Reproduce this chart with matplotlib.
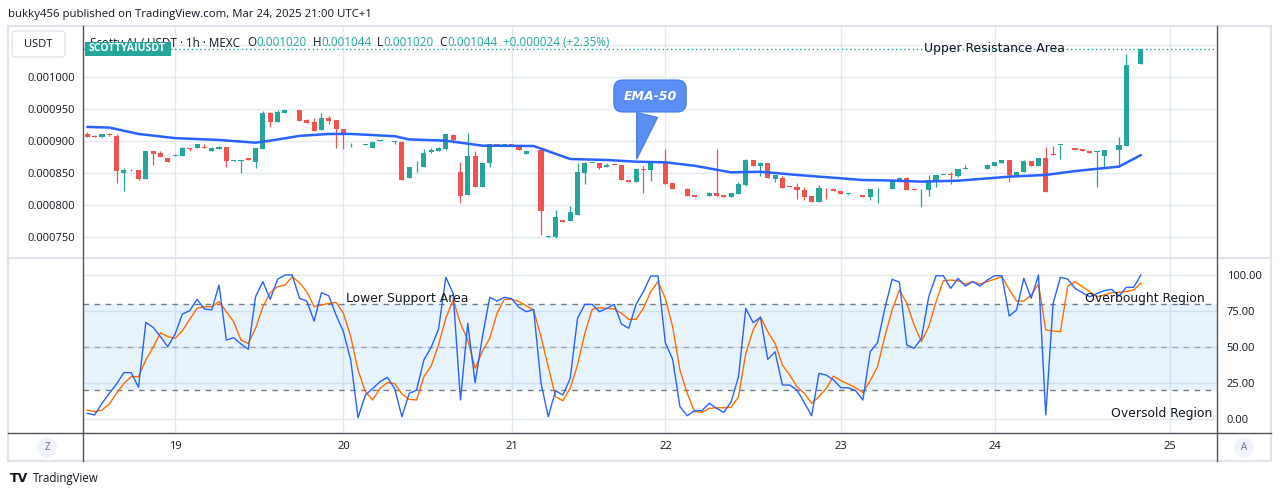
import numpy as np
import matplotlib.pyplot as plt
from matplotlib.patches import FancyBboxPatch, Circle, Rectangle

plt.rcParams['font.family'] = ['Open Sans', 'DejaVu Sans']

# Timcandles, priser i miljondelar USDT (x1e-6)
opens = [911.5, 907.8, 906.8, 911, 907.8, 850.5, 854.2, 854.7, 840.6, 884.4,
         881.3, 873, 876.6, 877, 888.6, 889, 890.6, 884.4, 887.5, 890.6,
         869.5, 869.5, 873, 867.7, 887.5, 943.8, 929.7, 943.8, 947.9, 948.5,
         932.8, 929.7, 917.2, 936, 932.8, 918.8, 891.5, 885.3, 894.5, 889.6,
         900, 902.4, 898.5, 899, 842.2, 860.4, 859.4, 883.3, 884.9, 887.5,
         909.4, 851.6, 816.2, 876.6, 828.6, 865.1, 895.3, 892.7, 895.3, 892.2,
         880.2, 885.3, 886, 750, 749.5, 776, 775.5, 784.4, 850, 865.3,
         865.6, 859.9, 862.8, 862.5, 839.6, 835.4, 856.2, 854.2, 865.3, 865.6,
         834.4, 826, 825.5, 815.6, 813.5, 813.5, 818.2, 816, 813, 817.7,
         831.3, 870.3, 861.4, 865.6, 840.6, 842.2, 829.2, 827.6, 824, 814,
         805.2, 826.3, 824.5, 821.4, 817, 816.5, 815.1, 813, 826, 826,
         825.5, 838.5, 842.7, 824.5, 824.4, 823.4, 839.1, 847.3, 847.6, 845.8,
         856.7, 858.8, 859, 856.7, 860.9, 866.2, 869.8, 846.9, 851.1, 868.8,
         861.4, 873.4, 879.2, 893.5, 893.2, 888.5, 888, 884.4, 882.8, 877.1,
         886.8, 886, 892.7, 1019.8, 1020]
highs = [914, 909, 911, 912, 911, 857.3, 856, 855, 884.4, 885,
         884.4, 873, 879, 891.2, 889, 895.3, 895.3, 891.2, 892, 891,
         870, 871, 873, 888.6, 947.4, 945.3, 948.5, 948.5, 948.5, 948.5,
         934.4, 936, 943.8, 939, 933, 919, 897.4, 885.6, 894.8, 898.5,
         902, 902.6, 900.5, 900, 859.4, 868.3, 887, 888.6, 890.6, 911,
         911.5, 867.2, 913, 884.4, 865.1, 896, 896, 895.3, 895.3, 892.2,
         884.4, 885.5, 887, 750.3, 792.2, 776, 798.4, 865.1, 867.2, 865.6,
         865.6, 865.6, 862.8, 862.5, 839.6, 856.2, 860.9, 865.6, 865.8, 887.5,
         834.4, 826.3, 827, 815.6, 813.8, 821, 887.5, 816, 818.7, 835.4,
         871.9, 870.3, 867.7, 866, 846.9, 845.8, 829.2, 833.8, 827.6, 814,
         830.7, 826.3, 824.5, 821.4, 817.3, 816.7, 815.1, 824.5, 826.3, 826.3,
         839.1, 844.3, 843, 825.5, 824.7, 846.9, 846.9, 847.6, 851.6, 856.2,
         862, 859, 859, 864, 866.7, 869.8, 869.8, 851, 870.3, 868.8,
         872.9, 890.1, 892.2, 894, 893.2, 888.5, 888, 884.4, 885, 886,
         887, 906.8, 1035.4, 1020.2, 1044]
lows = [906.8, 906, 906.8, 908.3, 835, 822.4, 853, 839, 840, 863,
        875, 867.7, 876, 877, 884.4, 889, 889, 884, 887, 860,
        869.5, 850.5, 870, 858.3, 887, 922.4, 929, 943, 947.9, 931.3,
        928, 915, 917, 926.6, 889.6, 887.5, 891, 885.3, 894.5, 889.6,
        900, 902.4, 895.3, 839, 842.2, 851.6, 859, 880.7, 884, 886.5,
        896.4, 803.7, 816, 828, 828, 859.9, 892.2, 892.7, 893.2, 886,
        880.2, 885.3, 753.1, 749, 749, 774, 775, 784, 833.3, 865.3,
        856, 859.9, 862.4, 839.1, 835.4, 835.4, 818.4, 838, 865.3, 833,
        825.5, 826, 814.6, 812.5, 813.5, 813.5, 814, 813, 813, 817.7,
        830, 861.4, 844.8, 842.2, 836.5, 827.1, 828.2, 809.9, 807.3, 805.2,
        805.2, 809.4, 822.4, 817.2, 815.5, 816.5, 813, 807.8, 803.7, 826,
        825.5, 838.5, 823.4, 823, 797.4, 814.6, 828.1, 847.3, 832.8, 844.3,
        856.7, 858.8, 858.8, 856.7, 860.9, 866.2, 836.5, 846.9, 851.1, 861.4,
        861.4, 820.8, 878.9, 871.4, 893, 886.5, 883.8, 881.8, 828.7, 857.3,
        886.8, 859.9, 892, 1019.8, 1020]
closes = [906.8, 906.8, 911, 910, 853.7, 854.8, 855, 840.6, 884.4, 879.7,
          875.5, 867.7, 878, 889, 887.5, 895.3, 889.6, 889.6, 891.2, 868.8,
          870, 870, 870.9, 888.6, 943.2, 929.7, 945.3, 948.5, 948.2, 931.3,
          928.7, 915.6, 936, 931.3, 918.8, 911, 891.8, 885.6, 894.8, 898.5,
          901, 902.6, 898.8, 839.1, 859.4, 860.7, 881.8, 886, 888.6, 911,
          901.6, 814.6, 876.6, 828.7, 865.1, 895.3, 892.2, 895.3, 893.2, 886,
          884.4, 885.5, 791.1, 750.3, 780.7, 774, 788.5, 851.6, 865.6, 865.6,
          857.3, 862.5, 862.4, 839.1, 835.4, 856.2, 854.2, 865.6, 865.6, 833.3,
          825.5, 826.3, 814.6, 812.5, 813.8, 818.7, 814.6, 813, 818.7, 832.3,
          870.3, 861.4, 865.6, 842.2, 846.9, 827.1, 828.2, 823.4, 813, 805.2,
          827.1, 825.8, 822.4, 817.2, 817.3, 816.7, 813, 824.5, 826.3, 826.3,
          839.1, 842.7, 823.4, 824.2, 824.7, 839.1, 846.9, 847.6, 847.2, 856.2,
          857, 859, 858.8, 862.5, 866.7, 869.8, 847.4, 851, 869.3, 861.4,
          872.9, 820.8, 878.9, 893.8, 893, 886.5, 883.8, 881.8, 883.1, 886,
          887, 893.2, 1019.5, 1020, 1044]

# EMA-50 avläst i några punkter (candle-index, pris x1e-6)
ema_idx = [0, 3, 7, 12, 18, 23, 25, 29, 33, 36, 42, 44, 49, 54, 61, 63, 66,
           71, 75, 79, 83, 88, 92, 97, 101, 106, 109, 114, 119, 126, 131, 135,
           141, 144]
ema_val = [922, 921, 911, 904.5, 901.6, 897.4, 900.5, 908, 911, 911, 907.5,
           902.5, 900.5, 892.7, 892.2, 884, 871.9, 870.3, 867.7, 866.7, 861.3,
           851, 852, 846.9, 843.5, 839, 838.5, 836.5, 838, 844.3, 847, 853,
           860, 878]

# Stochastic %K och %D
stoch_k = [3.9, 2.8, 10.9, 17.8, 24.3, 32.2, 32.2, 22.0, 67.1, 63.6,
           57.2, 50.2, 59.0, 72.9, 75.2, 83.1, 76.4, 75.7, 93.0, 54.8,
           56.5, 52.1, 48.4, 84.9, 95.4, 83.1, 97.0, 100, 100, 83.8,
           81.9, 68.0, 87.7, 85.6, 72.2, 60.6, 41.0, 0.9, 16.6, 21.3,
           25.9, 28.9, 21.3, 1.6, 17.8, 20.1, 41.0, 49.8, 62.3, 98.4,
           87.2, 13.2, 66.4, 25.2, 57, 84.5, 81.9, 84.5, 83.5, 77.5,
           74.5, 76.1, 25.2, 1.6, 19.7, 16.6, 28.2, 69.9, 79.6, 79.6,
           74.5, 76.8, 79.6, 66.0, 63.0, 79.6, 88.4, 99.3, 99.3, 53.0,
           41.4, 8.5, 2.3, 5.8, 5.8, 10.9, 7.4, 4.6, 12.0, 29.4,
           76.8, 66.9, 70.6, 41.4, 46.7, 23.6, 23.6, 20.1, 11.3, 2.3,
           31.7, 30.5, 27.1, 21.7, 21.7, 19.7, 13.2, 46.7, 53.0, 76.6,
           97.0, 94.9, 51.4, 49.1, 56.0, 84.9, 99.5, 99.5, 90.7, 97.7,
           92.3, 95.4, 92.3, 96.5, 99.5, 99.5, 71.5, 75.7, 97.7, 83.8,
           100, 2.8, 80.3, 98.4, 97.2, 90.7, 87.7, 84.9, 87.2, 89.1,
           90.0, 85.4, 91.4, 91.4, 100]
stoch_d = [6.2, 5.1, 6.2, 10.4, 17.8, 24.7, 29.4, 29.4, 41.0, 49.8,
           59.9, 57.2, 56.0, 61.3, 69.2, 76.8, 78.0, 78.0, 81.5, 74.5,
           67.6, 54.8, 52.5, 63.0, 78.0, 87.7, 91.9, 93.0, 98.8, 94.7,
           88.4, 78.0, 79.1, 80.3, 81.0, 73.4, 57.2, 34.0, 19.0, 13.2,
           21.3, 25.2, 24.7, 17.3, 13.6, 13.2, 29.4, 36.8, 51.4, 69.9,
           82.6, 66.4, 54.8, 35.2, 47, 56.0, 73.4, 83.1, 83.1, 81.5,
           78.5, 75.7, 57.2, 36.3, 15.5, 12.7, 21.3, 37.5, 59.5, 76.1,
           77.3, 76.8, 76.4, 73.4, 69.2, 69.2, 76.8, 88.4, 95.4, 83.8,
           64.1, 34.0, 17.8, 5.1, 4.6, 7.4, 7.8, 7.8, 8.1, 15.5,
           45.6, 61.8, 71.0, 60.6, 52.5, 37.5, 30.5, 22.4, 17.8, 10.9,
           15.5, 21.3, 29.8, 26.6, 24.3, 21.7, 18.3, 26.6, 36.3, 57.2,
           75.7, 89.6, 80.3, 65.3, 53.7, 64.1, 81.5, 96.0, 96.5, 96.0,
           93.7, 95.4, 93.7, 95.4, 97.0, 98.8, 90.0, 81.9, 81.9, 86.1,
           93.7, 61.8, 61.1, 60.6, 92.3, 95.4, 91.9, 88.4, 84.9, 86.1,
           87.7, 88.0, 88.4, 89.6, 94.2]

# Dagsgränser (candle-index) och etiketter
day_pos = [12, 35, 58, 79, 103, 124, 148]
day_labels = ['19', '20', '21', '22', '23', '24', '25']
price_ticks = [750, 800, 850, 900, 950, 1000, 1050]
stoch_ticks = [0, 25, 50, 75, 100]

GREEN = '#26a69a'
RED = '#ef5350'
BLUE = '#2962ff'
ORANGE = '#ff6d00'
GRID = '#e3e9f1'
DARK = '#131722'
FRAME = '#e0e3eb'
AXLINE = '#50535e'

W, H = 1281, 496
fig = plt.figure(figsize=(W / 100, H / 100), dpi=100)


def px_rect(x0, y0, x1, y1):
    return [x0 / W, 1 - y1 / H, (x1 - x0) / W, (y1 - y0) / H]


ax = fig.add_axes(px_rect(83, 26, 1217, 257))
st = fig.add_axes(px_rect(83, 258, 1217, 433))
fg = fig.add_axes([0, 0, 1, 1], zorder=10)
fg.set_xlim(0, W)
fg.set_ylim(H, 0)
fg.axis('off')
fg.patch.set_alpha(0)

o = np.array(opens) * 1e-6
h = np.array(highs) * 1e-6
l = np.array(lows) * 1e-6
c = np.array(closes) * 1e-6
x = np.arange(len(c))
col = np.where(c >= o, GREEN, RED)

xlim = (-0.59, 154.4)

# --- prispanel ---
ax.vlines(x, l, h, colors=col, lw=0.9, zorder=3)
body = np.maximum(np.abs(c - o), 1.2e-6)
ax.bar(x, body, bottom=np.minimum(o, c), width=0.7, color=col, lw=0, zorder=4)
ax.plot(ema_idx, np.array(ema_val) * 1e-6, color=BLUE, lw=1.8, zorder=5,
        solid_capstyle='round', solid_joinstyle='round')
ax.axhline(c[-1], color=GREEN, ls=(0, (1, 2)), lw=1, zorder=2)

ax.set_xlim(*xlim)
ax.set_ylim(718.75e-6, 1079.7e-6)
ax.set_xticks(day_pos)
ax.set_yticks(np.array(price_ticks) * 1e-6)
# översta etiketten ligger under USDT-knappen
ax.set_yticklabels([f'{v * 1e-6:.6f}' if v < 1050 else '' for v in price_ticks])
ax.tick_params(axis='both', length=0, labelsize=8, labelcolor=DARK, pad=5.5)
ax.tick_params(axis='x', labelbottom=False)
ax.grid(True, color=GRID, lw=1)
ax.set_axisbelow(True)
for s in ax.spines.values():
    s.set_visible(False)

ax.text(114.3, 1045.3e-6, 'Upper Resistance Area', family='DejaVu Sans',
        fontsize=8.9, color=DARK, va='center', ha='left', zorder=6)

# EMA-50 pratbubbla
ax.annotate('EMA-50', xy=(75, 867.7e-6), xytext=(650, 96),
            textcoords=fg.transData, ha='center', va='center',
            color='white', fontsize=9, fontstyle='italic', fontweight='bold',
            family='DejaVu Sans', zorder=7,
            bbox=dict(boxstyle='round,pad=0.75,rounding_size=0.7',
                      fc='#5b8ff5', ec='#4a7fe8', lw=1),
            arrowprops=dict(arrowstyle='wedge,tail_width=1.7,shrink_factor=0.5',
                            fc='#5b8ff5', ec='#4a7fe8', lw=1,
                            relpos=(0.5, 0.0)))

# --- stochastic-panel ---
st.axhspan(20, 80, color='#2196f3', alpha=0.1, lw=0, zorder=1)
st.axhline(80, color='#787b86', ls=(0, (4, 4)), lw=1, zorder=2)
st.axhline(50, color='#9598a1', ls=(0, (4, 4)), lw=1, alpha=0.8, zorder=2)
st.axhline(20, color='#787b86', ls=(0, (4, 4)), lw=1, zorder=2)
st.plot(x, stoch_d, color=ORANGE, lw=1, zorder=3)
st.plot(x, stoch_k, color=BLUE, lw=1, zorder=4)

st.set_xlim(*xlim)
st.set_ylim(-9.72, 111.8)
st.set_xticks(day_pos)
st.set_xticklabels(day_labels)
st.set_yticks(stoch_ticks)
st.set_yticklabels([f'{v:.2f}' for v in stoch_ticks])
st.yaxis.tick_right()
st.tick_params(axis='both', length=0, labelsize=8, labelcolor=DARK)
st.tick_params(axis='y', pad=7)
st.tick_params(axis='x', pad=6)
st.grid(True, color=GRID, lw=1)
st.set_axisbelow(True)
for s in st.spines.values():
    s.set_visible(False)

st.text(35.3, 83.8, 'Lower Support Area', family='DejaVu Sans', fontsize=8.9,
        color=DARK, va='center', ha='left', zorder=6)
st.text(136.3, 83.8, 'Overbought Region', family='DejaVu Sans', fontsize=8.9,
        color=DARK, va='center', ha='left', zorder=6)
st.text(153.8, 3.5, 'Oversold Region', family='DejaVu Sans', fontsize=8.9,
        color=DARK, va='center', ha='right', zorder=6)

# --- ram och linjer ---
fg.add_patch(Rectangle((8, 26), 1263, 435, fill=False, ec=FRAME, lw=1.5))
fg.plot([8, 1271], [257.5, 257.5], color=FRAME, lw=1.5)
fg.plot([8, 1271], [433, 433], color=AXLINE, lw=1)
fg.plot([83, 83], [26, 461], color=AXLINE, lw=1)
fg.plot([1217, 1217], [26, 461], color=AXLINE, lw=1)

fg.text(8, 15, 'bukky456 published on TradingView.com, Mar 24, 2025 21:00 UTC+1',
        fontsize=8.2, color=DARK, va='center', ha='left')

fg.add_patch(FancyBboxPatch((12, 31), 53, 26, boxstyle='round,pad=0,rounding_size=4',
                            fc='white', ec=FRAME, lw=1))
fg.text(38.5, 44.5, 'USDT', fontsize=8, color=DARK, ha='center', va='center')

# legendrad med OHLC från sista candle
chg = c[-1] - c[-2]
parts = [('Scotty AI / USDT · 1h · MEXC', DARK, 7),
         ('O', DARK, 0), (f'{o[-1]:.6f}', GREEN, 6),
         ('H', DARK, 0), (f'{h[-1]:.6f}', GREEN, 6),
         ('L', DARK, 0), (f'{l[-1]:.6f}', GREEN, 6),
         ('C', DARK, 0), (f'{c[-1]:.6f}', GREEN, 6),
         (f'+{chg:.6f} (+{chg / c[-2] * 100:.2f}%)', GREEN, 0)]
fig.canvas.draw()
rend = fig.canvas.get_renderer()
xpos = 90
for s, color, gap in parts:
    t = fg.text(xpos, 46.5, s, fontsize=8.4, color=color, va='baseline', ha='left')
    xpos += t.get_window_extent(rend).width + gap

fg.add_patch(Rectangle((84.5, 42), 86, 13.5, fc=GREEN, ec='none', zorder=5))
fg.text(127.5, 48.8, 'SCOTTYAIUSDT', fontsize=7.6, fontweight='bold',
        color='white', ha='center', va='center', zorder=6)

# knappar nere
for cx, letter in [(47, 'Z'), (1244, 'A')]:
    fg.add_patch(Circle((cx, 447.5), 10, fc='#f0f3fa', ec='none'))
    fg.text(cx, 448, letter, fontsize=7, color='#6a6d78', ha='center', va='center')

fg.text(10, 479, 'TV', fontsize=9, fontweight='heavy', color=DARK,
        family='DejaVu Sans', ha='left', va='center')
fg.text(33, 478.5, 'TradingView', fontsize=8.3, color=DARK, ha='left', va='center')

fig.savefig('out.png', dpi=100, facecolor='white')
